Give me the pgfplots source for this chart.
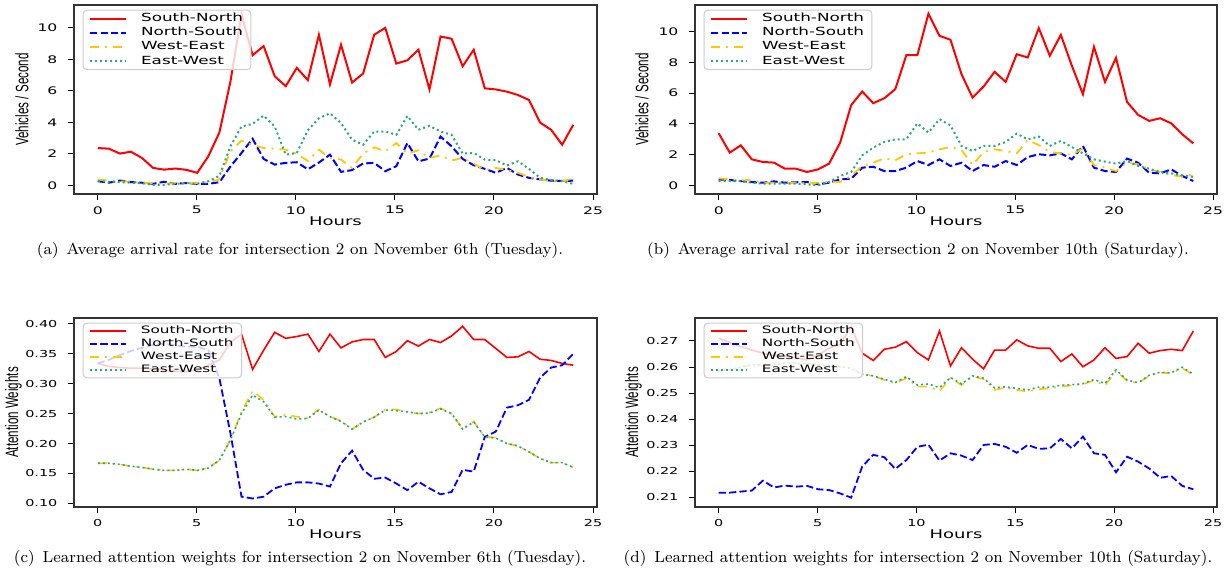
\documentclass[border=0pt]{standalone}
\usepackage{fontspec}
\usepackage{graphicx}
\usepackage{pgfplots}
\usepackage{pgfplotstable}
\pgfplotsset{compat=1.18}
\newfontfamily\dejavu{DejaVu Sans}
\newfontfamily\libsans{Liberation Sans}
\newcommand{\hsc}[1]{\scalebox{1.5}[1]{#1}}
\newcommand{\vsc}[1]{\scalebox{1}[1.55]{#1}}
\definecolor{snred}{RGB}{255,0,0}
\definecolor{nsblue}{RGB}{0,0,255}
\definecolor{wegold}{RGB}{255,200,0}
\definecolor{ewteal}{RGB}{38,168,128}

\pgfplotstableread{
x sn ns we ew
0.000 2.37 0.27 0.38 0.27
0.558 2.33 0.17 0.31 0.23
1.116 2.02 0.31 0.25 0.20
1.674 2.14 0.21 0.23 0.17
2.233 1.74 0.17 0.17 0.13
2.791 1.11 0.10 0.13 0.04
3.349 1.00 0.23 0.10 0.04
3.907 1.07 0.10 0.15 0.10
4.465 0.99 0.15 0.17 0.15
5.023 0.80 0.10 0.15 0.10
5.581 1.85 0.10 0.20 0.27
6.140 3.36 0.20 0.38 0.60
6.698 6.60 1.20 2.16 2.48
7.256 10.84 2.06 2.84 3.74
7.814 8.26 2.96 2.58 3.90
8.372 8.84 1.68 2.37 4.43
8.930 6.93 1.32 2.33 3.74
9.488 6.30 1.43 2.27 1.95
10.047 7.46 1.47 2.00 2.06
10.605 6.68 1.02 1.55 3.50
11.163 9.56 1.45 2.27 4.26
11.721 6.41 1.95 1.74 4.58
12.279 8.93 0.86 1.64 3.95
12.837 6.53 0.97 1.11 2.90
13.395 7.10 1.39 2.02 2.58
13.953 9.56 1.43 2.42 3.42
14.512 10.00 0.90 2.16 3.42
15.070 7.73 1.22 2.69 3.21
15.628 7.94 2.69 2.02 4.41
16.186 8.61 1.53 2.23 3.53
16.744 6.09 1.70 1.74 3.78
17.302 9.45 3.10 1.91 3.42
17.860 9.31 2.48 1.58 3.21
18.419 7.56 1.68 1.74 2.02
18.977 8.61 1.28 1.39 2.06
19.535 6.16 1.05 0.97 1.64
20.093 6.09 0.80 1.11 1.60
20.651 5.95 1.11 0.97 1.26
21.209 5.74 0.69 0.80 1.53
21.767 5.42 0.48 0.53 1.05
22.326 3.99 0.38 0.38 0.48
22.884 3.53 0.30 0.27 0.34
23.442 2.58 0.28 0.27 0.27
24.000 3.84 0.30 0.44 0.10
}\tabA

\pgfplotstableread{
x sn ns we ew
0.000 3.38 0.39 0.46 0.28
0.558 2.13 0.35 0.39 0.28
1.116 2.60 0.28 0.33 0.28
1.674 1.69 0.22 0.35 0.17
2.233 1.52 0.17 0.17 0.11
2.791 1.48 0.26 0.17 0.11
3.349 1.08 0.17 0.17 0.11
3.907 1.08 0.20 0.17 0.11
4.465 0.87 0.22 0.13 0.07
5.023 1.04 0.07 0.17 0.00
5.581 1.41 0.17 0.22 0.22
6.140 2.78 0.39 0.22 0.61
6.698 5.21 0.43 0.61 0.87
7.256 6.10 1.15 1.26 1.95
7.814 5.34 1.21 1.47 2.45
8.372 5.66 0.93 1.76 2.82
8.930 6.25 0.93 1.63 2.99
9.488 8.46 1.15 2.02 2.99
10.047 8.46 1.58 2.08 4.03
10.605 11.15 1.32 2.13 3.43
11.163 9.72 1.69 2.34 4.30
11.721 9.46 1.26 2.49 3.90
12.279 7.22 1.47 2.30 2.56
12.837 5.70 0.93 1.32 2.23
13.395 6.42 1.32 2.17 2.56
13.953 7.38 1.21 2.34 2.56
14.512 6.72 1.58 2.23 2.82
15.070 8.52 1.32 2.08 3.36
15.628 8.31 1.84 2.95 2.99
16.186 10.22 2.02 2.62 3.17
16.744 8.42 1.95 2.17 2.56
17.302 9.78 2.08 2.08 2.89
17.860 7.77 1.69 1.97 2.49
18.419 5.92 2.56 2.41 2.08
18.977 9.00 1.15 1.32 1.69
19.535 6.72 0.93 1.15 1.54
20.093 8.29 0.87 0.93 1.41
20.651 5.42 1.74 1.47 1.58
21.209 4.58 1.47 1.37 1.26
21.767 4.19 0.82 1.04 1.08
22.326 4.36 0.78 0.87 0.87
22.884 4.03 1.04 0.67 0.78
23.442 3.32 0.61 0.56 0.65
24.000 2.73 0.28 0.72 0.56
}\tabB

\pgfplotstableread{
x sn ns we ew
0.000 0.334 0.334 0.167 0.167
0.558 0.329 0.340 0.167 0.167
1.116 0.327 0.348 0.165 0.165
1.674 0.326 0.355 0.162 0.162
2.233 0.326 0.360 0.160 0.160
2.791 0.325 0.365 0.157 0.157
3.349 0.323 0.367 0.155 0.155
3.907 0.321 0.364 0.155 0.155
4.465 0.320 0.362 0.157 0.157
5.023 0.323 0.362 0.155 0.155
5.581 0.331 0.356 0.159 0.159
6.140 0.340 0.309 0.172 0.172
6.698 0.369 0.217 0.206 0.206
7.256 0.383 0.111 0.253 0.250
7.814 0.324 0.108 0.288 0.281
8.372 0.356 0.111 0.273 0.270
8.930 0.386 0.125 0.245 0.244
9.488 0.376 0.131 0.248 0.245
10.047 0.379 0.135 0.245 0.241
10.605 0.383 0.135 0.242 0.242
11.163 0.354 0.133 0.257 0.256
11.721 0.383 0.128 0.245 0.245
12.279 0.360 0.167 0.238 0.237
12.837 0.370 0.188 0.224 0.224
13.395 0.374 0.156 0.236 0.236
13.953 0.374 0.141 0.244 0.244
14.512 0.344 0.143 0.257 0.256
15.070 0.354 0.133 0.257 0.255
15.628 0.372 0.122 0.253 0.253
16.186 0.363 0.136 0.250 0.250
16.744 0.374 0.125 0.252 0.251
17.302 0.369 0.115 0.259 0.258
17.860 0.380 0.119 0.250 0.250
18.419 0.396 0.156 0.225 0.224
18.977 0.374 0.153 0.237 0.236
19.535 0.374 0.211 0.211 0.211
20.093 0.359 0.220 0.210 0.209
20.651 0.344 0.260 0.200 0.200
21.209 0.345 0.264 0.196 0.196
21.767 0.354 0.273 0.186 0.186
22.326 0.341 0.310 0.175 0.175
22.884 0.339 0.327 0.168 0.168
23.442 0.334 0.331 0.168 0.168
24.000 0.331 0.350 0.160 0.160
}\tabC

\pgfplotstableread{
x sn ns we ew
0.000 0.2710 0.2118 0.2585 0.2585
0.558 0.2694 0.2118 0.2590 0.2590
1.116 0.2678 0.2122 0.2600 0.2600
1.674 0.2665 0.2126 0.2608 0.2608
2.233 0.2653 0.2164 0.2608 0.2608
2.791 0.2644 0.2138 0.2610 0.2610
3.349 0.2640 0.2145 0.2614 0.2614
3.907 0.2636 0.2141 0.2614 0.2614
4.465 0.2627 0.2144 0.2614 0.2614
5.023 0.2646 0.2131 0.2608 0.2608
5.581 0.2672 0.2128 0.2606 0.2606
6.140 0.2687 0.2115 0.2601 0.2601
6.698 0.2755 0.2099 0.2595 0.2595
7.256 0.2653 0.2218 0.2572 0.2572
7.814 0.2625 0.2263 0.2566 0.2566
8.372 0.2668 0.2254 0.2550 0.2553
8.930 0.2676 0.2209 0.2538 0.2541
9.488 0.2697 0.2243 0.2557 0.2563
10.047 0.2655 0.2294 0.2525 0.2531
10.605 0.2627 0.2302 0.2525 0.2535
11.163 0.2738 0.2241 0.2508 0.2521
11.721 0.2604 0.2269 0.2557 0.2560
12.279 0.2674 0.2260 0.2531 0.2535
12.837 0.2630 0.2243 0.2563 0.2566
13.395 0.2593 0.2301 0.2554 0.2557
13.953 0.2665 0.2305 0.2512 0.2520
14.512 0.2665 0.2294 0.2521 0.2524
15.070 0.2704 0.2271 0.2512 0.2518
15.628 0.2681 0.2301 0.2506 0.2512
16.186 0.2672 0.2286 0.2515 0.2523
16.744 0.2672 0.2288 0.2518 0.2523
17.302 0.2621 0.2324 0.2525 0.2530
17.860 0.2650 0.2288 0.2529 0.2532
18.419 0.2601 0.2333 0.2534 0.2536
18.977 0.2627 0.2269 0.2548 0.2552
19.535 0.2674 0.2263 0.2529 0.2537
20.093 0.2633 0.2196 0.2585 0.2589
20.651 0.2640 0.2256 0.2547 0.2550
21.209 0.2691 0.2237 0.2538 0.2540
21.767 0.2653 0.2211 0.2566 0.2568
22.326 0.2663 0.2175 0.2578 0.2580
22.884 0.2668 0.2182 0.2576 0.2578
23.442 0.2663 0.2144 0.2595 0.2599
24.000 0.2738 0.2131 0.2570 0.2573
}\tabD

\pgfplotsset{
  panel/.style={
    scale only axis, anchor=south west,
    xmin=-1.2, xmax=25.2, xtick={0,5,10,15,20,25},
    tick align=outside, tick pos=left, major tick length=3pt,
    every tick/.style={black, line width=0.5pt},
    axis line style={black!80, line width=0.8pt},
    /pgf/number format/assume math mode=true,
    scaled y ticks=false,
    xticklabel style={inner ysep=0pt, yshift=-3pt},
    xlabel={\hsc{Hours}},
    xlabel style={font=\dejavu\fontsize{6}{7}\selectfont, at={(axis description cs:0.5,0)},
      anchor=north, inner sep=0pt, yshift=-11.4pt},
    ylabel style={font=\libsans\fontsize{5.8}{6}\selectfont, anchor=center},
    legend cell align=left,
    legend image code/.code={\draw[##1] (0pt,0pt) -- (18pt,0pt);},
    legend style={at={(rel axis cs:0,1)}, anchor=north west, xshift=4.3pt, yshift=-2.3pt,
      draw=black!20, line width=0.5pt, rounded corners=2pt, fill=white, fill opacity=0.8,
      text opacity=1, inner xsep=3pt, inner ysep=1pt, column sep=6pt},
  },
  toprow/.style={
    panel, width=261.5pt, height=94.5pt,
    every tick label/.append style={font=\dejavu\fontsize{5.2}{6}\selectfont, xscale=1.5},
    legend style={font=\dejavu\fontsize{5.6}{6}\selectfont, row sep=0.6pt,
      nodes={inner xsep=1pt, inner ysep=0.5pt, text height=4.2pt, text depth=1.3pt}},
  },
  botrow/.style={
    panel, width=261.5pt, height=94.5pt,
    every tick label/.append style={font=\dejavu\fontsize{4.8}{6}\selectfont, xscale=1.5},
    legend style={font=\dejavu\fontsize{5.1}{6}\selectfont, row sep=0.4pt,
      nodes={inner xsep=1pt, inner ysep=0.5pt, text height=3.85pt, text depth=1.2pt}},
    yticklabel style={/pgf/number format/.cd, fixed, fixed zerofill, precision=2},
  },
  sn/.style={snred, line width=1pt},
  ns/.style={nsblue, line width=1pt, dash pattern=on 3.6pt off 1.6pt},
  we/.style={wegold, line width=0.9pt, dash pattern=on 4.5pt off 3pt on 1pt off 3pt},
  ew/.style={ewteal, line width=1pt, dash pattern=on 1pt off 1.5pt},
}

\begin{document}
\begin{tikzpicture}
\path[use as bounding box] (0pt,0pt) rectangle (616pt,288pt);

% (a)
\begin{axis}[toprow, at={(37pt,191pt)},
  ymin=-0.545, ymax=11.45, ytick={0,2,4,6,8,10},
  ylabel={\vsc{Vehicles / Second}},
  ylabel style={at={(axis description cs:-0.0994,0.5)}}]
\addplot[sn] table[x=x,y=sn]{\tabA};
\addplot[ns] table[x=x,y=ns]{\tabA};
\addplot[we] table[x=x,y=we]{\tabA};
\addplot[ew] table[x=x,y=ew]{\tabA};
\legend{\hsc{South-North},\hsc{North-South},\hsc{West-East},\hsc{East-West}}
\end{axis}

% (b)
\begin{axis}[toprow, at={(347.5pt,191pt)}, width=261pt,
  ymin=-0.56, ymax=11.72, ytick={0,2,4,6,8,10},
  ylabel={\vsc{Vehicles / Second}},
  ylabel style={at={(axis description cs:-0.1015,0.5)}}]
\addplot[sn] table[x=x,y=sn]{\tabB};
\addplot[ns] table[x=x,y=ns]{\tabB};
\addplot[we] table[x=x,y=we]{\tabB};
\addplot[ew] table[x=x,y=ew]{\tabB};
\legend{\hsc{South-North},\hsc{North-South},\hsc{West-East},\hsc{East-West}}
\end{axis}

% (c)
\begin{axis}[botrow, at={(37pt,34.5pt)},
  ymin=0.0938, ymax=0.41, ytick={0.10,0.15,0.20,0.25,0.30,0.35,0.40},
  ylabel={\vsc{Attention Weights}},
  ylabel style={at={(axis description cs:-0.1157,0.5)}}]
\addplot[sn, line width=0.8pt] table[x=x,y=sn]{\tabC};
\addplot[ns, line width=0.9pt] table[x=x,y=ns]{\tabC};
\addplot[we, line width=0.8pt] table[x=x,y=we]{\tabC};
\addplot[ew, line width=0.8pt] table[x=x,y=ew]{\tabC};
\legend{\hsc{South-North},\hsc{North-South},\hsc{West-East},\hsc{East-West}}
\end{axis}

% (d)
\begin{axis}[botrow, at={(347.5pt,34.5pt)}, width=261pt,
  ymin=0.2063, ymax=0.2788, ytick={0.21,0.22,0.23,0.24,0.25,0.26,0.27},
  ylabel={\vsc{Attention Weights}},
  ylabel style={at={(axis description cs:-0.1178,0.5)}}]
\addplot[sn, line width=0.8pt] table[x=x,y=sn]{\tabD};
\addplot[ns, line width=0.9pt] table[x=x,y=ns]{\tabD};
\addplot[we, line width=0.8pt] table[x=x,y=we]{\tabD};
\addplot[ew, line width=0.8pt] table[x=x,y=ew]{\tabD};
\legend{\hsc{South-North},\hsc{North-South},\hsc{West-East},\hsc{East-West}}
\end{axis}

\node[anchor=base, font=\fontsize{8}{9}\selectfont, inner sep=0pt] at (150pt,160.5pt)
  {(a)\enspace Average arrival rate for intersection 2 on November 6th (Tuesday).};
\node[anchor=base, font=\fontsize{8}{9}\selectfont, inner sep=0pt] at (459pt,160.5pt)
  {(b)\enspace Average arrival rate for intersection 2 on November 10th (Saturday).};
\node[anchor=base, font=\fontsize{8}{9}\selectfont, inner sep=0pt] at (150pt,6.5pt)
  {(c)\enspace Learned attention weights for intersection 2 on November 6th (Tuesday).};
\node[anchor=base, font=\fontsize{8}{9}\selectfont, inner sep=0pt] at (459pt,6.5pt)
  {(d)\enspace Learned attention weights for intersection 2 on November 10th (Saturday).};
\end{tikzpicture}
\end{document}
